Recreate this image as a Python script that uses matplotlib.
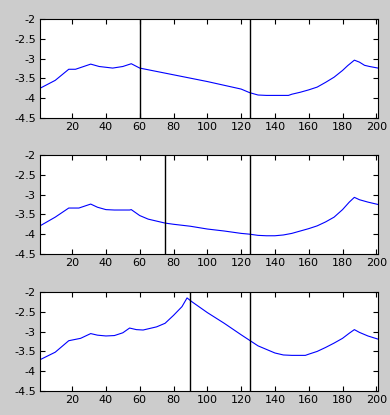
import matplotlib
matplotlib.use('Agg')
import matplotlib.pyplot as plt

plt.rcParams['axes.unicode_minus'] = False

# curva superior, corte en 60 y 125
x1 = [1, 10, 18, 22, 31, 36, 40, 44, 50, 55, 60, 80, 100, 120, 125, 130, 135, 148, 150, 155,
      160, 165, 170, 175, 180, 183, 187, 190, 193, 196, 201]
y1 = [-3.75, -3.55, -3.27, -3.27, -3.14, -3.2, -3.22, -3.24, -3.2, -3.13, -3.24, -3.41, -3.58,
      -3.77, -3.86, -3.92, -3.93, -3.93, -3.9, -3.85, -3.79, -3.72, -3.6, -3.47, -3.3, -3.18,
      -3.04, -3.09, -3.17, -3.2, -3.24]
cortes1 = [60, 125]

# curva del medio, corte en 75 y 125
x2 = [1, 10, 18, 24, 31, 35, 40, 45, 54, 55, 60, 65, 70, 75, 80, 90, 100, 110, 120, 125, 130,
      135, 140, 145, 150, 155, 160, 165, 170, 175, 180, 184, 187, 190, 195, 201]
y2 = [-3.79, -3.57, -3.34, -3.34, -3.24, -3.32, -3.38, -3.39, -3.39, -3.38, -3.53, -3.62,
      -3.67, -3.72, -3.75, -3.8, -3.87, -3.92, -3.98, -4.0, -4.03, -4.04, -4.04, -4.02, -3.98,
      -3.92, -3.86, -3.79, -3.69, -3.57, -3.38, -3.19, -3.07, -3.13, -3.19, -3.25]
cortes2 = [75, 125]

# curva inferior, corte en 90 y 125
x3 = [1, 10, 18, 25, 31, 35, 40, 45, 50, 54, 58, 62, 70, 75, 80, 85, 88, 91, 100, 110, 120,
      125, 130, 135, 140, 145, 150, 158, 160, 165, 170, 175, 180, 184, 187, 190, 195, 201]
y3 = [-3.71, -3.52, -3.23, -3.17, -3.05, -3.09, -3.11, -3.1, -3.03, -2.91, -2.95, -2.96,
      -2.88, -2.79, -2.59, -2.37, -2.15, -2.25, -2.52, -2.79, -3.08, -3.22, -3.36, -3.45,
      -3.54, -3.59, -3.6, -3.6, -3.57, -3.5, -3.4, -3.29, -3.17, -3.04, -2.95, -3.02, -3.11,
      -3.19]
cortes3 = [90, 125]

xticks = [20, 40, 60, 80, 100, 120, 140, 160, 180, 200]
yticks = [-4.5, -4, -3.5, -3, -2.5, -2]
yetiq = ['-4.5', '-4', '-3.5', '-3', '-2.5', '-2']

fig = plt.figure(figsize=(3.9, 4.15), dpi=100, facecolor='#cccccc')
posiciones = [[0.1026, 0.7157, 0.8667, 0.2386],
              [0.1026, 0.3880, 0.8667, 0.2386],
              [0.1026, 0.0578, 0.8667, 0.2386]]
datos = [(x1, y1, cortes1), (x2, y2, cortes2), (x3, y3, cortes3)]

for pos, (xs, ys, cortes) in zip(posiciones, datos):
    ax = fig.add_axes(pos)
    ax.plot(xs, ys, color='#0000ff', linewidth=0.8)
    for c in cortes:
        ax.axvline(c, color='black', linewidth=1.0)
    ax.set_xlim(1, 201)
    ax.set_ylim(-4.5, -2)
    ax.set_xticks(xticks)
    ax.set_yticks(yticks)
    ax.set_yticklabels(yetiq)
    ax.tick_params(direction='in', length=3.5, width=0.8, top=True, right=True,
                   labelsize=8, colors='black', pad=3)
    for s in ax.spines.values():
        s.set_linewidth(0.8)

fig.savefig('out.png', dpi=100, facecolor=fig.get_facecolor())
plt.close('all')
